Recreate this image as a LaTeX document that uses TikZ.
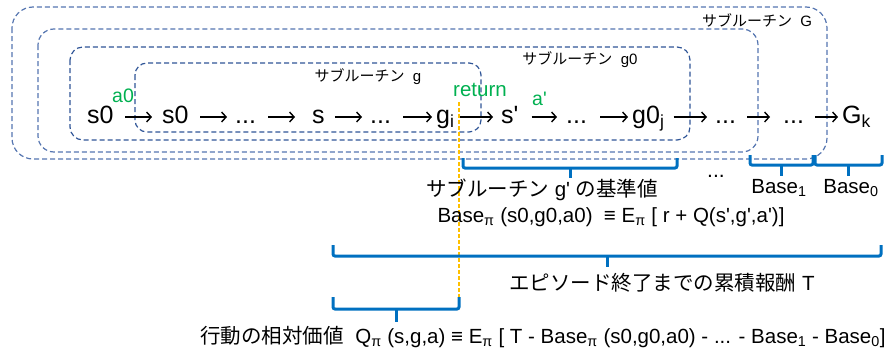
\documentclass[tikz,border=0pt]{standalone}
\usepackage{fontspec}
\setmainfont{Liberation Sans}[Ligatures=TeXOff]
\newfontfamily\jp{Noto Sans CJK JP}
\usetikzlibrary{arrows.meta}
\definecolor{boxblue}{HTML}{2F5597}
\definecolor{boxblueb}{HTML}{5575B0}
\definecolor{brblue}{HTML}{0070C0}
\definecolor{grn}{HTML}{00B050}
\definecolor{ylw}{HTML}{FFC000}
\tikzset{
  dbox/.style={draw=boxblue, line width=1.2pt, dash pattern=on 5pt off 3pt},
  boxlbl/.style={inner sep=0pt, font=\fontsize{15}{17}\selectfont},
  rowtxt/.style={inner sep=0pt, anchor=base west, font=\fontsize{25}{28}\selectfont},
  grntxt/.style={inner sep=0pt, anchor=base west, text=grn, font=\fontsize{19.5}{22}\selectfont},
  arr/.style={line width=1.4pt, -{Straight Barb[length=4.5pt,width=10pt,line width=1.4pt]}},
  brace/.style={draw=brblue, line width=3pt, rounded corners=2pt},
  brlbl/.style={inner sep=0pt, font=\fontsize{20.5}{23}\selectfont},
  yline/.style={draw=ylw, line width=1.2pt, dash pattern=on 4pt off 2pt}
}
\begin{document}
\begin{tikzpicture}[x=1pt,y=-1pt]
\useasboundingbox (0,0) rectangle (895,351);
% dashed boxes
\draw[dbox, draw=boxblueb, rounded corners=21pt] (12,7) rectangle (827,159);
\draw[dbox, draw=boxblueb, rounded corners=16pt] (38,29) rectangle (758,152);
\draw[dbox, rounded corners=13pt] (70,47) rectangle (690,140);
\draw[dbox, rounded corners=12pt] (135,63) rectangle (481,132);
\node[boxlbl] (labG) at (757,20) {{\jp サブルーチン}\ \ G};
\node[boxlbl] (labg0) at (580,60) {{\jp サブルーチン}\ \ g0};
\node[boxlbl] (labg) at (368,77) {{\jp サブルーチン}\ \ g};
% return line
\coordinate (ytop) at (459,102);
\coordinate (ybot) at (459,298);
\draw[yline] (ytop) -- (ybot);
% main row
\coordinate (rowy) at (0,117);
\node[rowtxt] (n1) at (87,123) {s0};
\node[rowtxt] (n2) at (162,123) {s0};
\node[rowtxt] (n3) at (235,123) {...};
\node[rowtxt] (n4) at (312,123) {s};
\node[rowtxt] (n5) at (370,123) {...};
\node[rowtxt] (n6) at (436,123) {g\textsubscript{i}};
\node[rowtxt] (n7) at (501,123) {s'};
\node[rowtxt] (n8) at (566,123) {...};
\node[rowtxt] (n9) at (632,123) {g0\textsubscript{j}};
\node[rowtxt] (n10) at (715,123) {...};
\node[rowtxt] (n11) at (783,123) {...};
\node[rowtxt] (n12) at (842,123) {G\textsubscript{k}};
\draw[arr, shorten <=11.5pt, shorten >=10pt] (n1.east |- rowy) -- (n2.west |- rowy);
\draw[arr, shorten <=11.5pt, shorten >=8pt] (n2.east |- rowy) -- (n3.west |- rowy);
\draw[arr, shorten <=12pt, shorten >=17pt] (n3.east |- rowy) -- (n4.west |- rowy);
\draw[arr, shorten <=10pt, shorten >=8pt] (n4.east |- rowy) -- (n5.west |- rowy);
\draw[arr, shorten <=12pt, shorten >=4pt] (n5.east |- rowy) -- (n6.west |- rowy);
\draw[arr, shorten <=5pt, shorten >=8pt] (n6.east |- rowy) -- (n7.west |- rowy);
\draw[arr, shorten <=13pt, shorten >=9pt] (n7.east |- rowy) -- (n8.west |- rowy);
\draw[arr, shorten <=13pt, shorten >=4pt] (n8.east |- rowy) -- (n9.west |- rowy);
\draw[arr, shorten <=9pt, shorten >=8pt] (n9.east |- rowy) -- (n10.west |- rowy);
\draw[arr, shorten <=11pt, shorten >=13pt] (n10.east |- rowy) -- (n11.west |- rowy);
\draw[arr, shorten <=11pt, shorten >=4pt] (n11.east |- rowy) -- (n12.west |- rowy);
% green labels
\node[grntxt] (a0) at (112,102) {a0};
\node[grntxt, font=\fontsize{20.5}{22}\selectfont] (ret) at (453,96) {return};
\node[grntxt] (ap) at (532,105) {a'};
% braces
\draw[brace] (463,158) |- (677,168) -- (677,158);
\draw[brace] (570,168) -- (570,178);
\draw[brace] (750,155) |- (813,165) -- (813,155);
\draw[brace] (781,165) -- (781,176);
\draw[brace] (815,155) |- (882,165) -- (882,155);
\draw[brace] (848,165) -- (848,176);
\draw[brace] (333,245) |- (881,256) -- (881,245);
\draw[brace] (607,256) -- (607,267);
\draw[brace] (333,297) |- (459,309) -- (459,297);
\draw[brace] (396,309) -- (396,322);
% brace labels
\node[brlbl] (l1) at (542,190) {{\jp サブルーチン} g' {\jp の基準値}};
\node[brlbl] (l2) at (611,217) {Base\textsubscript{π} (s0,g0,a0)\ \ ≡ E\textsubscript{π} [ r + Q(s',g',a')]};
\node[brlbl, anchor=base west, font=\fontsize{21}{22}\selectfont] (ldots) at (707,177) {...};
\node[brlbl] (lb1) at (779,188) {Base\textsubscript{1}};
\node[brlbl] (lb0) at (851,188) {Base\textsubscript{0}};
\node[brlbl] (lT) at (662,283) {{\jp エピソード終了までの累積報酬} T};
\node[brlbl] (lQ) at (543,337) {{\jp 行動の相対価値}\ \ Q\textsubscript{π} (s,g,a) ≡ E\textsubscript{π} [ T - Base\textsubscript{π} (s0,g0,a0) - ... - Base\textsubscript{1} - Base\textsubscript{0}]};
\end{tikzpicture}
\end{document}
